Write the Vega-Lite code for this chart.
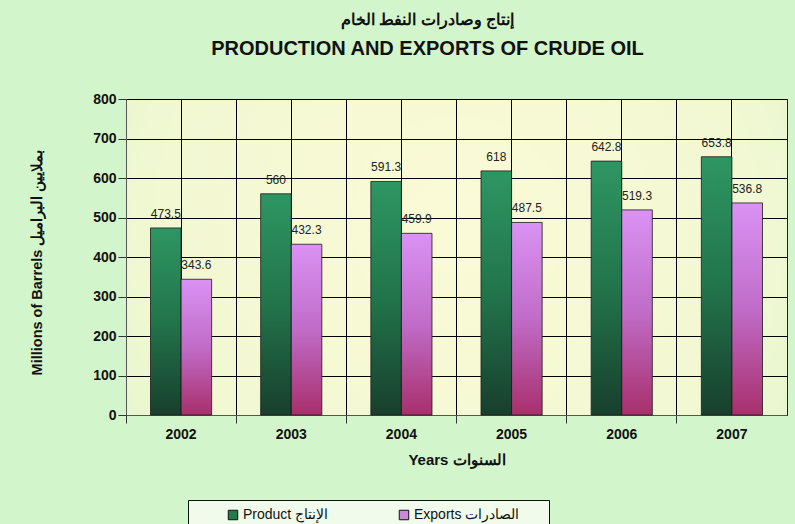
{
  "$schema": "https://vega.github.io/schema/vega-lite/v6.json",
  "width": 661,
  "height": 316,
  "autosize": {"type": "none"},
  "padding": {"left": 126, "top": 99, "right": 8, "bottom": 109},
  "background": "#d3f5cc",
  "title": {
    "text": "إنتاج وصادرات النفط الخام",
    "subtitle": "PRODUCTION AND EXPORTS OF CRUDE OIL",
    "font": "Liberation Sans",
    "fontSize": 16,
    "fontWeight": "bold",
    "color": "#111111",
    "subtitleFont": "Liberation Sans",
    "subtitleFontSize": 20,
    "subtitleFontWeight": "bold",
    "subtitleColor": "#111111",
    "subtitlePadding": 11,
    "anchor": "middle",
    "dx": -29,
    "offset": 33
  },
  "data": {
    "values": [
      {"year": "2002", "series": "Product", "value": 473.5},
      {"year": "2003", "series": "Product", "value": 560},
      {"year": "2004", "series": "Product", "value": 591.3},
      {"year": "2005", "series": "Product", "value": 618},
      {"year": "2006", "series": "Product", "value": 642.8},
      {"year": "2007", "series": "Product", "value": 653.8},
      {"year": "2002", "series": "Exports", "value": 343.6},
      {"year": "2003", "series": "Exports", "value": 432.3},
      {"year": "2004", "series": "Exports", "value": 459.9},
      {"year": "2005", "series": "Exports", "value": 487.5},
      {"year": "2006", "series": "Exports", "value": 519.3},
      {"year": "2007", "series": "Exports", "value": 536.8}
    ]
  },
  "encoding": {
    "xOffset": {
      "field": "series",
      "type": "nominal",
      "scale": {"domain": ["Product", "Exports"], "paddingInner": 0, "paddingOuter": 0}
    },
    "y": {
      "field": "value",
      "type": "quantitative",
      "scale": {"domain": [0, 800], "nice": false},
      "axis": {
        "title": "Millions of Barrels بملايين البراميل",
        "values": [0, 100, 200, 300, 400, 500, 600, 700, 800],
        "tickCount": 20,
        "labelOverlap": false,
        "grid": true,
        "gridColor": "#000000",
        "gridWidth": 1,
        "gridOpacity": 1,
        "tickSize": 8,
        "tickColor": "#333333",
        "domainColor": "#555555",
        "labelFont": "Liberation Sans",
        "labelFontSize": 14,
        "labelFontWeight": "bold",
        "labelColor": "#111111",
        "labelPadding": 2,
        "titleFont": "Liberation Sans",
        "titleFontSize": 14.5,
        "titleFontWeight": "bold",
        "titleColor": "#111111",
        "titlePadding": 48,
        "titleY": 163
      }
    }
  },
  "resolve": {"axis": {"x": "independent"}},
  "layer": [
    {
      "transform": [{"filter": "datum.series === 'Product'"}],
      "mark": {
        "type": "bar",
        "stroke": "#1a1a1a",
        "strokeWidth": 0.8,
        "fill": {
          "gradient": "linear",
          "x1": 0, "y1": 0, "x2": 0, "y2": 1,
          "stops": [
            {"offset": 0, "color": "#2e9662"},
            {"offset": 0.5, "color": "#22744b"},
            {"offset": 1, "color": "#183f2d"}
          ]
        }
      },
      "encoding": {
        "x": {
          "field": "year",
          "type": "nominal",
          "scale": {"paddingInner": 0.445, "paddingOuter": 0.2225},
          "axis": {
            "orient": "bottom",
            "title": "Years السنوات",
            "labelAngle": 0,
            "grid": true,
            "gridColor": "#000000",
            "gridWidth": 1,
            "gridOpacity": 1,
            "bandPosition": -0.4009,
            "ticks": true,
            "tickSize": 8,
            "tickColor": "#333333",
            "domainColor": "#555555",
            "labelFont": "Liberation Sans",
            "labelFontSize": 14,
            "labelFontWeight": "bold",
            "labelColor": "#111111",
            "labelPadding": 4,
            "titleFont": "Liberation Sans",
            "titleFontSize": 15,
            "titleFontWeight": "bold",
            "titleColor": "#111111",
            "titlePadding": 11
          }
        }
      }
    },
    {
      "transform": [{"filter": "datum.series === 'Exports'"}],
      "mark": {
        "type": "bar",
        "stroke": "#1a1a1a",
        "strokeWidth": 0.8,
        "fill": {
          "gradient": "linear",
          "x1": 0, "y1": 0, "x2": 0, "y2": 1,
          "stops": [
            {"offset": 0, "color": "#da92f4"},
            {"offset": 0.5, "color": "#c06cc8"},
            {"offset": 1, "color": "#a82f6b"}
          ]
        }
      },
      "encoding": {
        "x": {
          "field": "year",
          "type": "nominal",
          "axis": {
            "orient": "bottom",
            "title": null,
            "labels": false,
            "ticks": false,
            "domain": false,
            "grid": true,
            "bandPosition": 0.5,
            "gridColor": "#000000",
            "gridWidth": 1,
            "gridOpacity": 1
          }
        }
      }
    },
    {
      "mark": {
        "type": "text",
        "baseline": "bottom",
        "dy": -7,
        "font": "Liberation Sans",
        "fontSize": 12,
        "color": "#222222"
      },
      "encoding": {
        "x": {"field": "year", "type": "nominal", "axis": null},
        "text": {"field": "value", "type": "nominal"}
      }
    },
    {
      "mark": {"type": "point", "shape": "square", "filled": true, "opacity": 0},
      "encoding": {
        "x": {"field": "year", "type": "nominal", "axis": null},
        "color": {
          "field": "series",
          "type": "nominal",
          "scale": {"domain": ["Product", "Exports"], "range": ["#1f7a4c", "#c78ad8"]},
          "legend": {
            "orient": "none",
            "legendX": 62,
            "legendY": 401,
            "direction": "horizontal",
            "title": "\u00a0",
            "titleOrient": "right",
            "titlePadding": 22,
            "titleFontSize": 12,
            "labelExpr": "datum.label === 'Product' ? 'Product الإنتاج' : 'Exports الصادرات'",
            "labelFont": "Liberation Sans",
            "labelFontSize": 14,
            "labelColor": "#111111",
            "labelOffset": 3,
            "symbolType": "square",
            "symbolSize": 90,
            "symbolOpacity": 1,
            "symbolStrokeColor": "#111111",
            "symbolStrokeWidth": 1,
            "columnPadding": 38,
            "padding": 8,
            "symbolOffset": 30,
            "strokeColor": "#111111",
            "fillColor": "#f0fbec"
          }
        }
      }
    }
  ],
  "config": {
    "view": {
      "stroke": "#222222",
      "strokeWidth": 1,
      "fill": {
        "gradient": "radial",
        "x1": 0.5, "y1": 0.45, "x2": 0.5, "y2": 0.45,
        "r1": 0, "r2": 0.75,
        "stops": [
          {"offset": 0, "color": "#fbfad6"},
          {"offset": 0.6, "color": "#f1f8d2"},
          {"offset": 1, "color": "#dcf4cc"}
        ]
      }
    }
  }
}
